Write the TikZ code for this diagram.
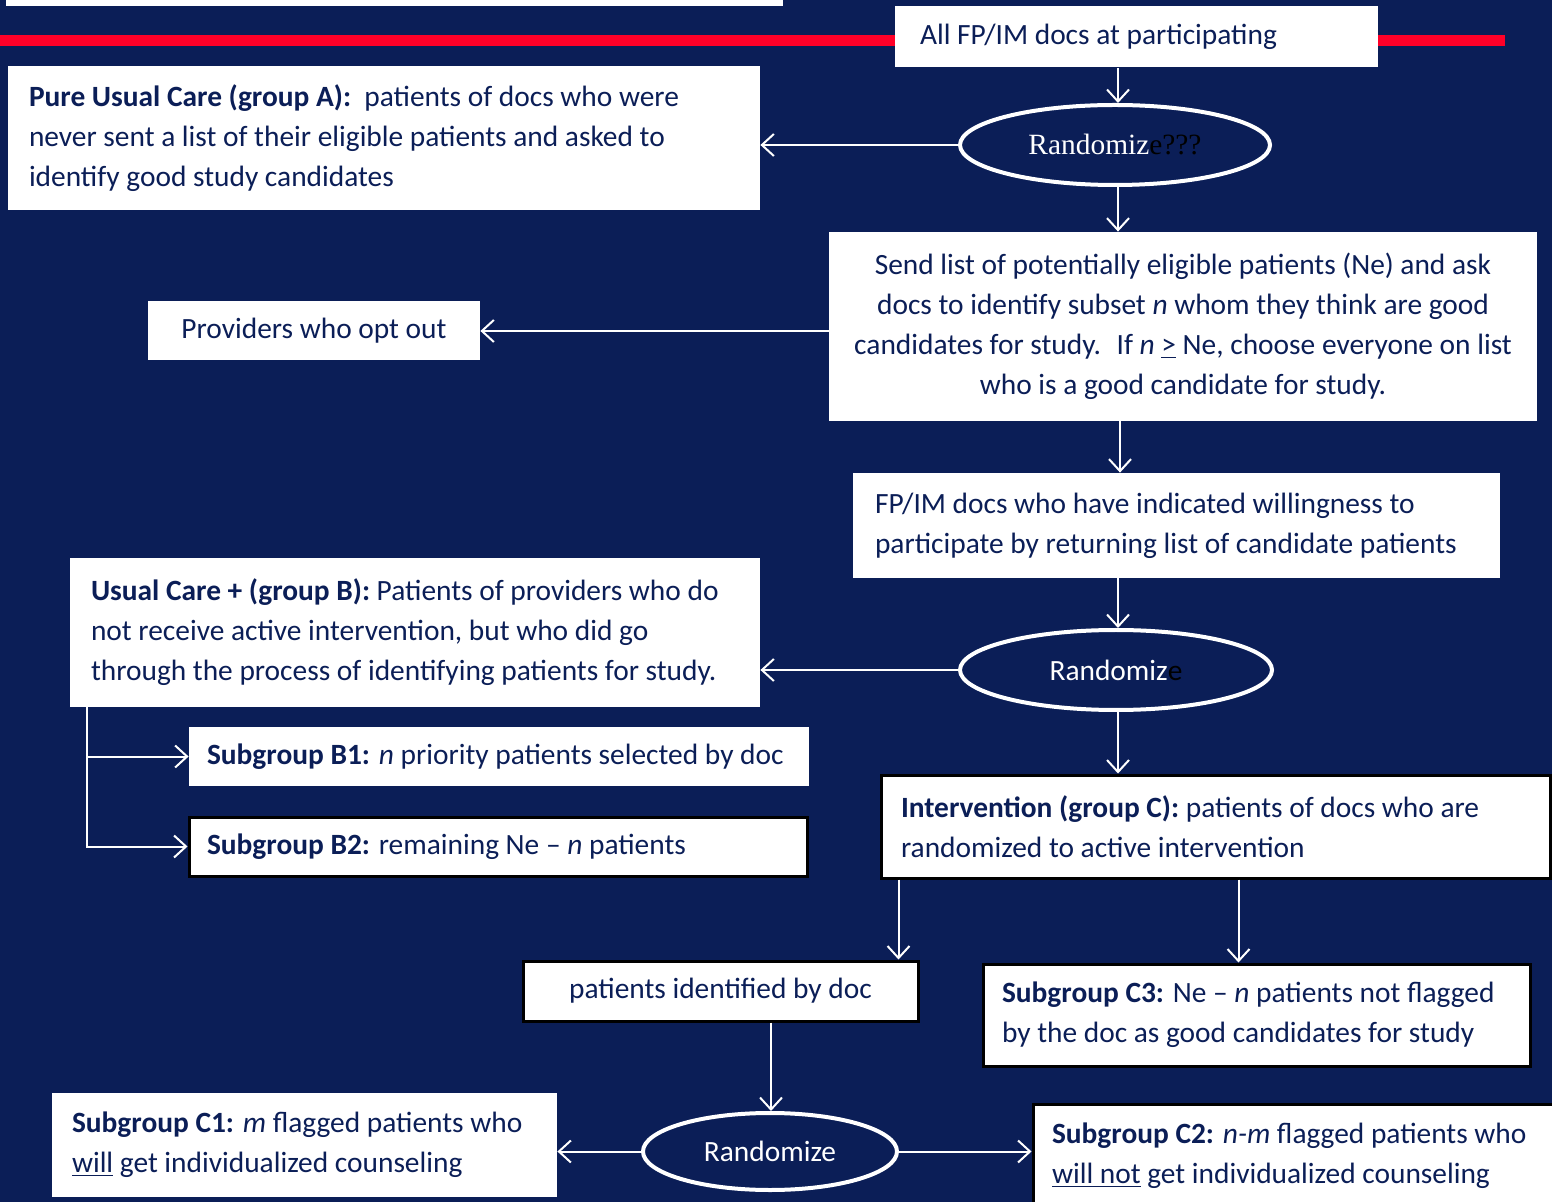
\documentclass[tikz,border=0pt]{standalone}
\usepackage{fontspec}
\setmainfont{Carlito}
\newfontfamily\timesfont{Liberation Serif}
\usetikzlibrary{positioning,shapes.geometric,arrows.meta}
\definecolor{navy}{RGB}{11,30,87}
\definecolor{redbar}{RGB}{255,0,40}
\tikzset{box/.style={fill=white, text=navy, inner sep=0pt, align=flush left, font=\fontsize{14.7}{20}\selectfont},
  framed/.style={box, draw=black, line width=1.5pt},
  size/.style 2 args={minimum width=#1, minimum height=#2},
  rand/.style={ellipse, draw=white, line width=2pt, fill=navy, text=white, inner sep=0pt, font=\fontsize{14.7}{20}\selectfont},
  line/.style={draw=white, line width=1pt, -{Straight Barb[length=6pt,width=11pt]}}}

\begin{document}
\begin{tikzpicture}[x=0.5pt,y=-0.5pt]
\useasboundingbox (0,0) rectangle (1552,1202);
\fill[navy] (0,0) rectangle (1552,1202);
% header strip and red rule
\fill[white] (6,-4) rectangle (783,6);
\fill[redbar] (0,35) rectangle (1505,46);

\node[box, size={241.5pt}{30.5pt}, text width=216.5pt, inner xsep=12.5pt] (all) at (1136.5,37) {All FP/IM docs at participating};
\node[rand, size={155pt}{40pt}] (r1) at (1115,145) {\timesfont Randomiz\textcolor{black}{e???}};
\node[box, size={376pt}{72pt}, text width=355pt, inner xsep=10.5pt] (a) at (384,138)
  {\textbf{Pure Usual Care (group A):}~ patients of docs who were\\
   never sent a list of their eligible patients and asked to\\
   identify good study candidates};
\node[box, align=flush center, size={354pt}{94.5pt}, text width=344pt, inner xsep=5pt] (send) at (1183,326.5)
  {Send list of potentially eligible patients (Ne) and ask\\
   docs to identify subset \textit{n} whom they think are good\\
   candidates for study.~ If \textit{n} \underline{>} Ne, choose everyone on list\\
   who is a good candidate for study.};
\node[box, align=flush center, size={166pt}{29.5pt}] (prov) at (314,331) {Providers who opt out};
\node[box, size={323.5pt}{52.5pt}, text width=301.5pt, inner xsep=11pt] (will) at (1176.5,525.5)
  {FP/IM docs who have indicated willingness to\\
   participate by returning list of candidate patients};
\node[rand, size={156pt}{40pt}] (r2) at (1116,670) {Randomiz\textcolor{black}{e}};
\node[box, size={345pt}{74.5pt}, text width=324pt, inner xsep=10.5pt] (b) at (415,632.5)
  {\textbf{Usual Care + (group B):} Patients of providers who do\\
   not receive active intervention, but who did go\\
   through the process of identifying patients for study.};
\node[box, size={310pt}{29.5pt}, text width=292pt, inner xsep=9pt] (b1) at (499,756.5)
  {\textbf{Subgroup B1:} \textit{n} priority patients selected by doc};
\node[framed, size={309pt}{29.5pt}, text width=291pt, inner xsep=9pt] (b2) at (498,846.5)
  {\textbf{Subgroup B2:} remaining Ne -- \textit{n} patients};
\node[framed, size={334.5pt}{51.5pt}, text width=314.5pt, inner xsep=10pt] (c) at (1215.5,826.5)
  {\textbf{Intervention (group C):} patients of docs who are\\
   randomized to active intervention};
\node[framed, align=flush center, size={197.5pt}{30pt}] (id) at (720.5,991) {patients identified by doc};
\node[framed, size={273.5pt}{51pt}, text width=254.5pt, inner xsep=9.5pt] (c3) at (1256.5,1015)
  {\textbf{Subgroup C3:} Ne -- \textit{n} patients not flagged\\
   by the doc as good candidates for study};
\node[rand, size={127pt}{38.5pt}] (r3) at (770,1151.5) {Randomize};
\node[box, size={252.5pt}{52pt}, text width=232.5pt, inner xsep=10pt] (c1) at (304.5,1145)
  {\textbf{Subgroup C1:} \textit{m} flagged patients who\\
   \underline{will} get individualized counseling};
\node[framed, size={261.5pt}{52pt}, text width=242.5pt, inner xsep=9.5pt] (c2) at (1294.5,1156)
  {\textbf{Subgroup C2:} \textit{n-m} flagged patients who\\
   \underline{will not} get individualized counseling};

% connectors
\draw[line] ([xshift=1.5pt]r1.north |- all.south) -- ([xshift=1.5pt]r1.north);
\draw[line] (r1.west) -- (r1.west -| a.east);
\draw[line] ([xshift=1.5pt]r1.south) -- ([xshift=1.5pt]r1.south |- send.north);
\draw[line] (prov.east -| send.west) -- (prov.east);
\draw[line] ([xshift=2pt]r2.north |- send.south) -- ([xshift=2pt]r2.north |- will.north);
\draw[line] ([xshift=1pt]r2.north |- will.south) -- ([xshift=1pt]r2.north);
\draw[line] (r2.west) -- (r2.west -| b.east);
\draw[line] ([xshift=1pt]r2.south) -- ([xshift=1pt]r2.south |- c.north);
\draw[line] ([xshift=8.5pt]b.south west) |- (b1.west);
\draw[line] ([xshift=8.5pt]b.south west) |- (b2.west);
\draw[line] ([xshift=9.5pt]c.south west) -- ([xshift=9.5pt]c.south west |- id.north);
\draw[line] ([xshift=-9pt]c3.north |- c.south) -- ([xshift=-9pt]c3.north);
\draw[line] ([xshift=0.5pt]r3.north |- id.south) -- ([xshift=0.5pt]r3.north);
\draw[line] (r3.west) -- (r3.west -| c1.east);
\draw[line] (r3.east) -- (r3.east -| c2.west);
\end{tikzpicture}
\end{document}
